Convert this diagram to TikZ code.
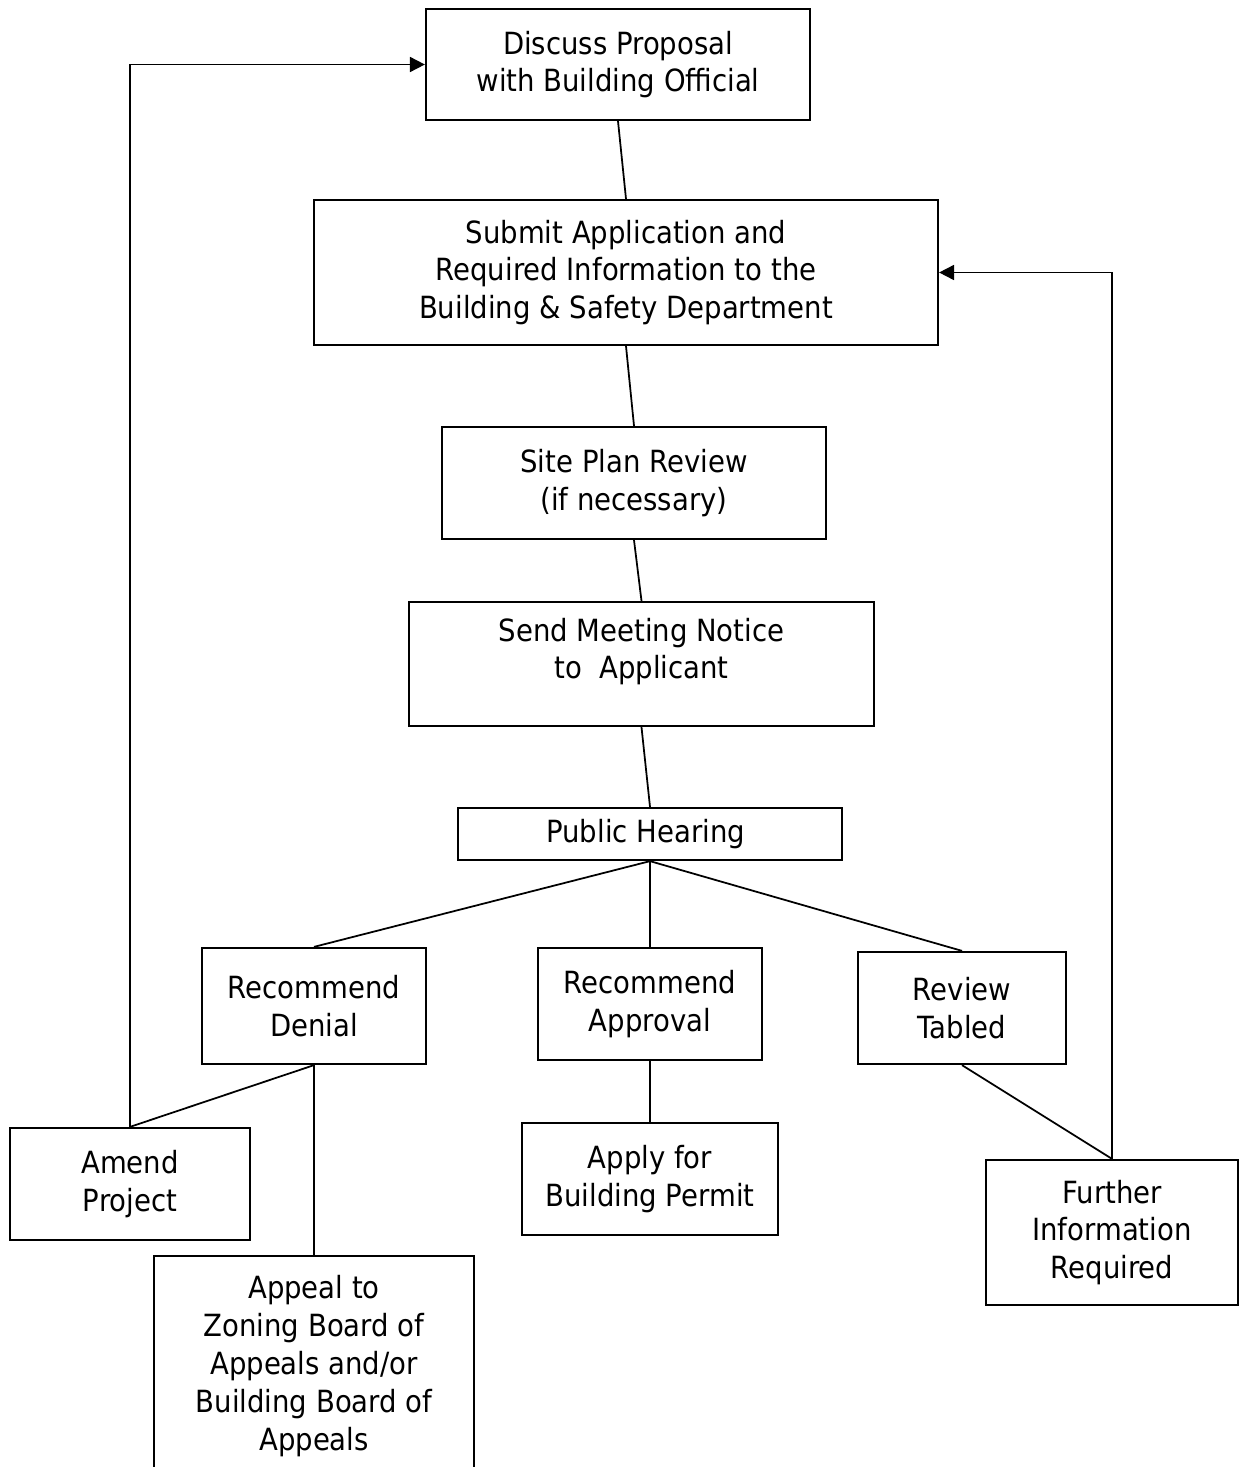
\documentclass[tikz,border=0pt]{standalone}
\usepackage{fontspec}
\setmainfont{DejaVu Sans}[FakeStretch=0.9]
\usetikzlibrary{arrows.meta}

\begin{document}
\begin{tikzpicture}[x=0.02cm, y=-0.02cm,
	box/.style={draw, line width=1.3pt, align=center, inner sep=0pt,
	  font=\fontsize{17.4}{21.5}\selectfont},
	link/.style={line width=1pt},
	back/.style={link, -{Triangle[length=8.5pt, width=8.5pt]}}]
	\useasboundingbox (0,0) rectangle (1240,1467);
	\clip (0,0) rectangle (1240,1467);
	\node [box, minimum width=7.68cm, minimum height=2.22cm] (1) at (618,64.5)
	  { Discuss Proposal \\ with Building Official };
	\node [box, minimum width=12.48cm, minimum height=2.90cm] (2) at (626,272.5)
	  { Submit Application and \\ Required Information to the \\ Building \& Safety Department };
	\node [box, minimum width=7.68cm, minimum height=2.24cm] (3) at (634,483)
	  { Site Plan Review \\ (if necessary) };
	\node [box, minimum width=9.30cm, minimum height=2.48cm, text depth=17.7pt] (4) at (641.5,664)
	  { Send Meeting Notice \\ to\ \ Applicant };
	\node [box, minimum width=7.68cm, minimum height=1.04cm] (5) at (650,834)
	  { Public Hearing };
	\node [box, minimum width=4.48cm, minimum height=2.32cm] (6) at (314,1006)
	  { Recommend \\ Denial };
	\node [box, minimum width=4.48cm, minimum height=2.24cm] (7) at (650,1004)
	  { Recommend \\ Approval };
	\node [box, minimum width=4.16cm, minimum height=2.24cm] (8) at (962,1008)
	  { Review \\ Tabled };
	\node [box, minimum width=4.80cm, minimum height=2.24cm] (9) at (130,1184)
	  { Amend \\ Project };
	\node [box, minimum width=5.12cm, minimum height=2.24cm] (10) at (650,1179)
	  { Apply for \\ Building Permit };
	\node [box, minimum width=5.04cm, minimum height=2.90cm] (11) at (1112,1232.5)
	  { Further \\ Information \\ Required };
	\node [box, minimum width=6.40cm, minimum height=4.40cm] (12) at (314,1366)
	  { Appeal to \\ Zoning Board of \\ Appeals and/or \\ Building Board of \\ Appeals };
	% main line
	\draw [link] (1.south) -- (2.north);
	\draw [link] (2.south) -- (3.north);
	\draw [link] (3.south) -- (4.north);
	\draw [link] (4.south) -- (5.north);
	% outcomes of the hearing
	\draw [link] (5.south) -- (6.north);
	\draw [link] (5.south) -- (7.north);
	\draw [link] (5.south) -- (8.north);
	\draw [link] (6.south) -- (9.north);
	\draw [link] (6.south) -- (12.north);
	\draw [link] (7.south) -- (10.north);
	\draw [link] (8.south) -- (11.north);
	% loops back
	\draw [back]
	  (9.north) |- 
	  (1.west);
	\draw [back]
	  (11.north) |- 
	  (2.east);
\end{tikzpicture}
\end{document}
